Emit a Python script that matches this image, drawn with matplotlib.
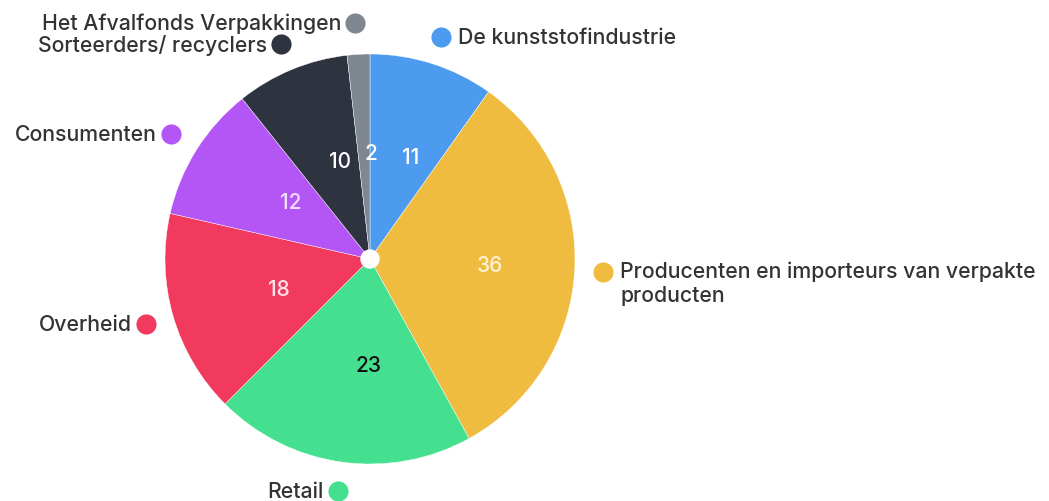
import matplotlib.pyplot as plt

# data
labels = ['De kunststofindustrie', 'Producenten en importeurs van verpakte\nproducten',
          'Retail', 'Overheid', 'Consumenten', 'Sorteerders/ recyclers',
          'Het Afvalfonds Verpakkingen']
values = [11, 36, 23, 18, 12, 10, 2]
colors = ['#4C9BEF', '#F0BC3F', '#45E08F', '#F23A5E', '#B455F5', '#2D333F', '#7F8791']
num_colors = ['white', '#FFF3D6', '#111111', '#FFE3E8', '#F2DDFF', 'white', 'white']

# label placement (pixel coords, y from top): dot x, dot y, side
label_pos = [(441, 38, 'right'), (603, 273, 'right'), (338, 492, 'left'),
             (146, 325, 'left'), (171, 135, 'left'), (281, 45, 'left'),
             (355, 24, 'left')]

plt.rcParams['font.family'] = ['Inter', 'DejaVu Sans']

W, H = 1049, 502
fig = plt.figure(figsize=(W / 100, H / 100), dpi=100)
ax = fig.add_axes([0, 0, 1, 1])

cx, cy, r = 370, H - 260, 205
wedges, texts = ax.pie(values, colors=colors, startangle=90, counterclock=False,
                       center=(cx, cy), radius=r, labels=[str(v) for v in values],
                       labeldistance=0.52, frame=True,
                       wedgeprops=dict(linewidth=0.3, edgecolor='white'),
                       textprops=dict(fontsize=15, fontweight='medium'))
for t, c in zip(texts, num_colors):
    t.set_color(c)
ax.set_xlim(0, W)
ax.set_ylim(0, H)
ax.set_aspect('equal')
ax.axis('off')

# small white hub in the middle
ax.add_patch(plt.Circle((cx, cy), 9, color='white', zorder=5))

fs = 15.3
for lab, col, (dx, dy, side) in zip(labels, colors, label_pos):
    y = H - dy
    ax.scatter([dx], [y], s=210, color=col, zorder=6, linewidths=0)
    if side == 'right':
        if '\n' in lab:
            ax.text(dx + 17, y + 12, lab, ha='left', va='top', fontsize=fs,
                    color='#333333', fontweight='medium', linespacing=1.3)
        else:
            ax.text(dx + 17, y, lab, ha='left', va='center', fontsize=fs,
                    color='#333333', fontweight='medium')
    else:
        ax.text(dx - 14, y, lab, ha='right', va='center', fontsize=fs,
                color='#333333', fontweight='medium')

fig.savefig('out.png', dpi=100, facecolor='white')
